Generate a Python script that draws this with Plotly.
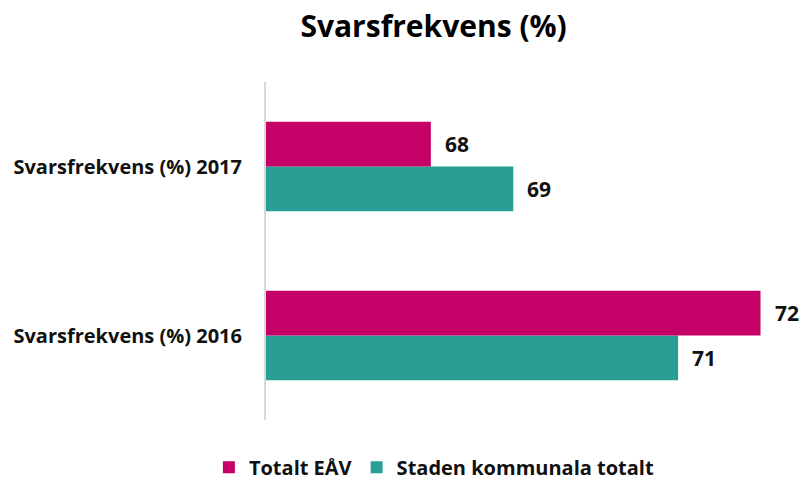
import plotly.graph_objects as go

categories = ["Svarsfrekvens (%) 2016", "Svarsfrekvens (%) 2017"]
series_names = ["Staden kommunala totalt", "Totalt EÅV"]
staden_values = [71, 69]
eav_values = [72, 68]
colors = {"Totalt EÅV": "#C50066", "Staden kommunala totalt": "#299E94"}

FONT = "'Open Sans', Lato, sans-serif"
BARGAP = 0.47

fig = go.Figure()
for name, vals in zip(series_names, [staden_values, eav_values]):
    fig.add_trace(go.Bar(
        y=categories, x=vals, name=name, orientation="h",
        marker=dict(color=colors[name], line=dict(width=0)),
    ))

# data labels
annotations = []
half = (1 - BARGAP) / 4
offsets = {"Staden kommunala totalt": -half, "Totalt EÅV": half}
for name, vals in zip(series_names, [staden_values, eav_values]):
    for i, v in enumerate(vals):
        annotations.append(dict(
            x=v, y=i + offsets[name], xref="x", yref="y",
            text="<b>%d</b>" % v, showarrow=False, xanchor="left", xshift=12,
            font=dict(family=FONT, size=21, color="#111111"),
        ))

fig.update_layout(
    width=800, height=471,
    paper_bgcolor="white", plot_bgcolor="white",
    margin=dict(l=258, r=31, t=74, b=59, autoexpand=False),
    barmode="group", bargap=BARGAP, bargroupgap=0,
    title=dict(text="<b>Svarsfrekvens (%)</b>", x=0.532, xanchor="center",
               y=0.961, yanchor="middle",
               font=dict(family=FONT, size=30, color="#000000")),
    xaxis=dict(range=[66, 72.2], showgrid=False, showticklabels=False,
               zeroline=False, showline=False, ticks="", automargin=False),
    yaxis=dict(type="category", showgrid=False, showline=True,
               linecolor="#D9D9D9", linewidth=2, ticks="", automargin=False,
               ticklabelstandoff=18,
               tickfont=dict(family=FONT, size=20, color="#111111", weight="bold")),
    legend=dict(orientation="h", traceorder="reversed",
                xref="container", yref="paper",
                x=0.533, xanchor="center", y=-0.14, yanchor="middle",
                font=dict(family=FONT, size=20, color="#111111", weight="bold"),
                itemwidth=30),
    annotations=annotations,
    showlegend=True,
)

fig.write_html("out.html")
